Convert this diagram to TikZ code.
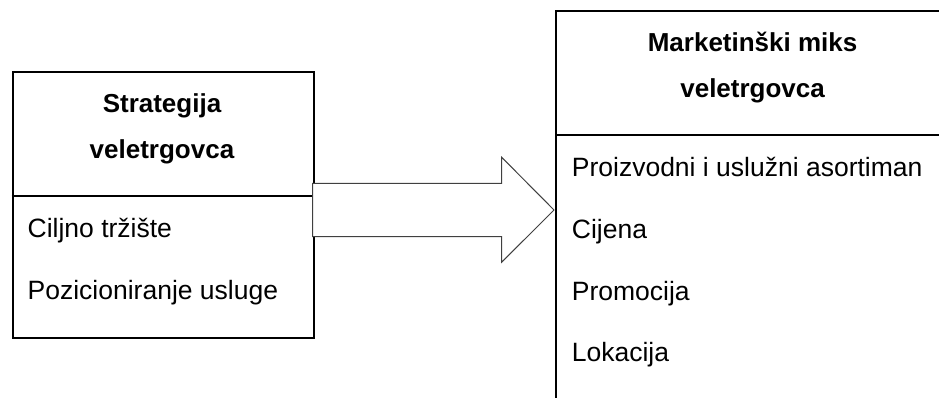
\documentclass[tikz,border=0pt]{standalone}
\usepackage{fontspec}
\setmainfont{Liberation Sans}
\begin{document}
\begin{tikzpicture}[x=1pt,y=-1pt,
  boxline/.style={draw=black,line width=2pt},
  arrowline/.style={draw=black!75,line width=1pt,fill=white},
  head/.style={inner sep=0pt,anchor=base,font=\fontsize{26}{30}\selectfont\bfseries},
  item/.style={inner sep=0pt,anchor=base west,font=\fontsize{26.5}{30}\selectfont}]
\clip (0,0) rectangle (939,397);
\fill[white] (0,0) rectangle (939,397);
% left box
\node[boxline,inner sep=0pt,anchor=north west,minimum width=301pt,minimum height=266pt] (lbox) at (11.5,71) {};
\coordinate (ldivl) at (11.5,196);
\coordinate (ldivr) at (312.5,196);
\draw[boxline] (ldivl) -- (ldivr);
\node[head] (lh1) at (162,112) {Strategija};
\node[head] (lh2) at (162,158) {veletrgovca};
\node[item] (li1) at (27.5,237.5) {Ciljno tržište};
\node[item] (li2) at (27.5,299.5) {Pozicioniranje usluge};
% right box
\node[boxline,inner sep=0pt,anchor=north west,minimum width=395pt,minimum height=420pt] (rbox) at (555,10) {};
\coordinate (rdivl) at (555,135);
\coordinate (rdivr) at (950,135);
\draw[boxline] (rdivl) -- (rdivr);
\node[head] (rh1) at (752.6,51) {Marketinški miks};
\node[head] (rh2) at (752.6,97.5) {veletrgovca};
\node[item] (ri1) at (571.7,176.7) {Proizvodni i uslužni asortiman};
\node[item] (ri2) at (571.7,238.3) {Cijena};
\node[item] (ri3) at (571.7,300) {Promocija};
\node[item] (ri4) at (571.7,361.7) {Lokacija};
% block arrow
\coordinate (atail) at (312.5,210);
\coordinate (atip) at (554,210);
\draw[arrowline] (312.5,183.3) -- (501.7,183.3) -- (501.7,157.3) -- (atip) -- (501.7,262.2) -- (501.7,236.7) -- (312.5,236.7) -- cycle;
\end{tikzpicture}
\end{document}
